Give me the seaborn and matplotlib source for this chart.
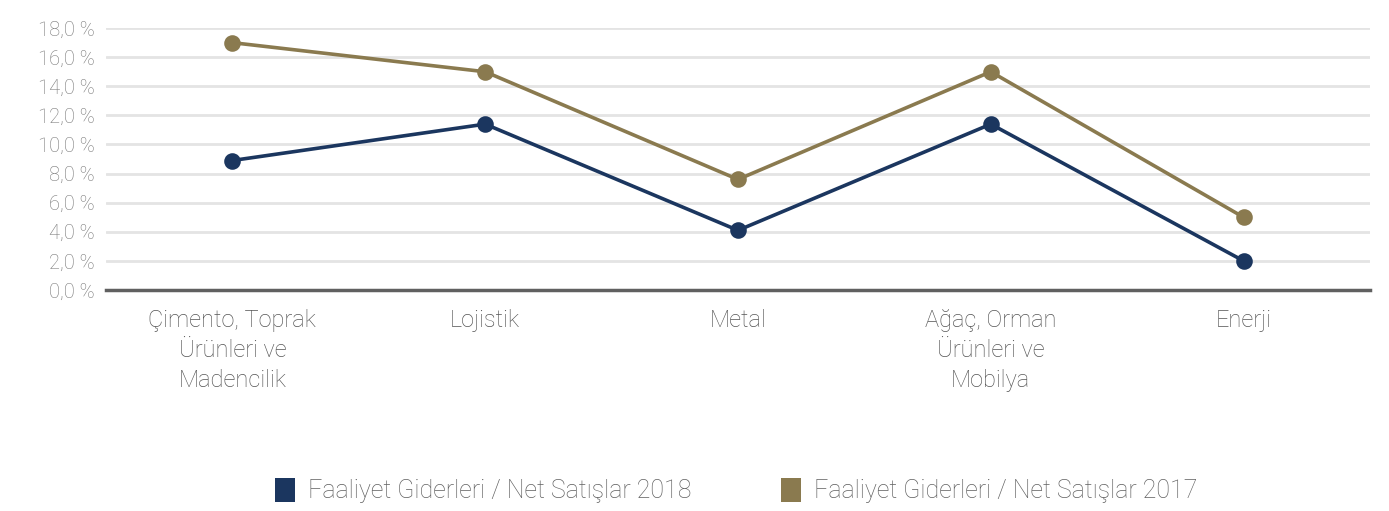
import pandas as pd
import numpy as np
import matplotlib
matplotlib.use('Agg')
import matplotlib.pyplot as plt
from matplotlib.patches import Patch
import seaborn as sns

# data
categories = ['Çimento, Toprak\nÜrünleri ve\nMadencilik', 'Lojistik', 'Metal',
              'Ağaç, Orman\nÜrünleri ve\nMobilya', 'Enerji']
values_2018 = [8.9, 11.4, 4.1, 11.4, 2.0]
values_2017 = [17.0, 15.0, 7.6, 15.0, 5.0]
series_names = ['Faaliyet Giderleri / Net Satışlar 2018',
                'Faaliyet Giderleri / Net Satışlar 2017']
y_ticks = [0, 2, 4, 6, 8, 10, 12, 14, 16, 18]
y_tick_labels = ['0,0 %', '2,0 %', '4,0 %', '6,0 %', '8,0 %', '10,0 %',
                 '12,0 %', '14,0 %', '16,0 %', '18,0 %']

colors = ['#1b365f', '#8a7a4f']

sns.set_style('white')
plt.rcParams['font.family'] = ['Roboto', 'DejaVu Sans']
plt.rcParams['font.weight'] = 'light'

df = pd.DataFrame({
    'Kategori': categories * 2,
    'Oran': values_2018 + values_2017,
    'Seri': [series_names[0]] * len(categories) + [series_names[1]] * len(categories),
})

fig = plt.figure(figsize=(13.89, 5.11), dpi=100)
ax = fig.add_axes([0.0763, 0.4325, 0.910, 0.5125])

sns.pointplot(data=df, x='Kategori', y='Oran', hue='Seri', order=categories,
              palette=colors, markers='o', linestyles='-', ax=ax,
              markersize=10, linewidth=2.6, legend=False)

ax.set_ylim(0, 18)
ax.set_xlim(-0.5, len(categories) - 0.5)
ax.set_yticks(y_ticks)
ax.set_yticklabels(y_tick_labels, fontsize=14.5, color='#777777')
ax.tick_params(axis='y', length=0, pad=8)
ax.tick_params(axis='x', length=0, pad=14, labelsize=17, labelcolor='#555555')
for lab in ax.get_xticklabels():
    lab.set_linespacing(1.38)
    lab.set_verticalalignment('top')

ax.set_xlabel('')
ax.set_ylabel('')
ax.grid(axis='y', color='#e4e4e4', linewidth=2)
ax.set_axisbelow(True)
for s in ['top', 'right', 'left']:
    ax.spines[s].set_visible(False)
ax.spines['bottom'].set_color('#606060')
ax.spines['bottom'].set_linewidth(2.5)
ax.spines['bottom'].set_zorder(5)

handles = [Patch(facecolor=c, edgecolor='none') for c in colors]
fig.legend(handles, series_names, loc='center', bbox_to_anchor=(0.53, 0.04),
           ncol=2, frameon=False, fontsize=18, handlelength=0.8, handleheight=1.1,
           columnspacing=3.6, handletextpad=0.5, labelcolor='#606060')

fig.savefig('out.png', dpi=100)
